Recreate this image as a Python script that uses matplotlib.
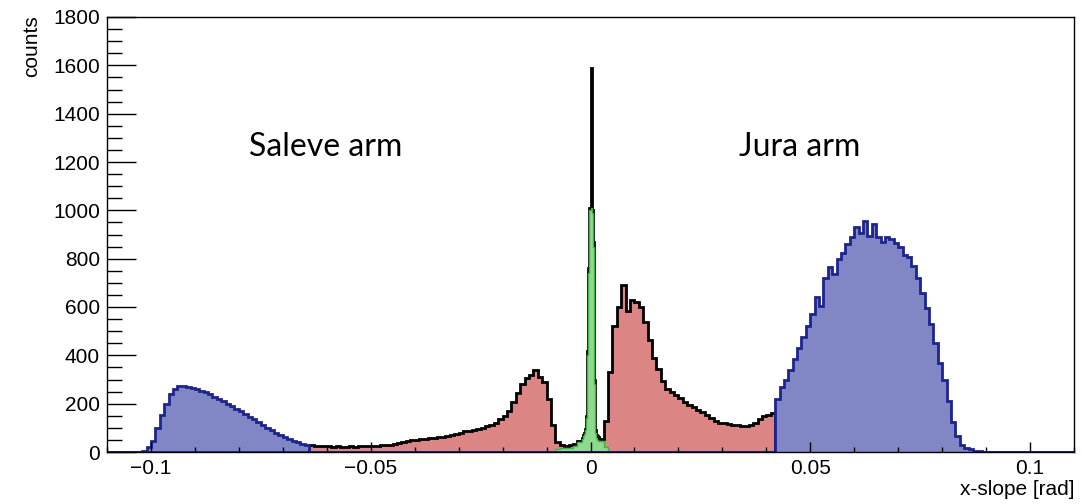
import numpy as np
import matplotlib
matplotlib.use("Agg")
import matplotlib.pyplot as plt
from matplotlib.ticker import MultipleLocator, FuncFormatter

# ---------------- data (counts) ----------------
# coarse bins of 0.001 rad from -0.110 to -0.002
left_counts = (
    [0] * 8 +
    # Saleve arm  (-0.102 .. -0.064)
    [5, 20, 45, 100, 155, 200, 240, 260, 275, 274,
     270, 264, 260, 254, 248, 238, 228, 219, 210, 200,
     192, 178, 170, 158, 146, 135, 124, 112, 100, 89,
     78, 70, 63, 55, 47, 40, 33, 28] +
    # central part (-0.064 .. -0.002)
    [27, 26, 24, 25, 23, 22, 24, 21, 22, 23,
     22, 24, 25, 24, 26, 25, 27, 29, 31, 33,
     36, 40, 44, 48, 50, 53, 55, 57, 60, 62,
     64, 67, 72, 76, 80, 85, 88, 92, 96, 100,
     106, 112, 122, 135, 150, 168, 205, 245, 280, 305,
     320, 338, 310, 290, 220, 110, 40, 27, 26, 28,
     33, 45]
)
# fine bins of 0.00025 rad from -0.002 to 0.002
center_counts = [60, 70, 80, 95, 150, 420, 760, 1010,
                 1590, 1000, 870, 300, 90, 70, 65, 62]
# coarse bins of 0.001 rad from 0.002 to 0.110
right_counts = (
    # central part (0.002 .. 0.042)
    [55, 130, 330, 520, 600, 690, 585, 630, 622, 600,
     540, 465, 390, 345, 295, 262, 248, 235, 222, 205,
     196, 188, 175, 165, 153, 140, 130, 122, 120, 117,
     112, 113, 108, 106, 110, 122, 136, 148, 153, 162] +
    # Jura arm (0.042 .. 0.089)
    [220, 270, 300, 340, 385, 430, 475, 520, 570, 640,
     605, 720, 765, 735, 800, 825, 860, 890, 930, 905,
     955, 895, 945, 890, 870, 890, 880, 865, 850, 815,
     805, 770, 720, 660, 595, 530, 450, 370, 300, 210,
     125, 65, 30, 18, 12, 6, 3] +
    [0] * 21
)
# zero-slope (green) component: -0.008..-0.002, fine centre, 0.002..0.004
green_left = [12, 15, 15, 18, 25, 40]
green_center = [55, 65, 75, 90, 140, 400, 740, 1000,
                1008, 990, 850, 280, 80, 60, 50, 45]
green_right = [45, 20]

saleve_limit = -0.064
jura_limit = 0.042

# ---------------- build histogram arrays ----------------
edges = np.concatenate([
    np.arange(-110, -2) * 0.001,
    np.arange(-8, 8) * 0.00025,
    np.arange(2, 111) * 0.001,
])
total = np.array(left_counts + center_counts + right_counts, dtype=float)
green = np.concatenate([np.zeros(102), green_left, green_center,
                        green_right, np.zeros(106)])
mid = 0.5 * (edges[:-1] + edges[1:])
saleve_mask = mid < saleve_limit
jura_mask = mid > jura_limit
central_mask = ~(saleve_mask | jura_mask)

central = np.where(central_mask, total, 0)
saleve = np.where(saleve_mask, total, 0)
jura = np.where(jura_mask, total, 0)

# ---------------- plot ----------------
fig = plt.figure(figsize=(10.82, 5.04), dpi=100)
ax = fig.add_axes([107 / 1082, 1 - 452 / 504, 967 / 1082, 435 / 504])

red_fill = "#dc8585"
blue_fill = "#8087c4"
navy = "#1c2490"
green_fill = "#8fd98f"
green_edge = "#3cb53c"

ax.stairs(central, edges, fill=True, color=red_fill, lw=0)
ax.stairs(central, edges, color="black", lw=2.0)
ax.stairs(green, edges, fill=True, color=green_fill, lw=0)
ax.stairs(green, edges, color=green_edge, lw=1.0)
for arm in (saleve, jura):
    ax.stairs(arm, edges, fill=True, color=blue_fill, lw=0)
    ax.stairs(arm, edges, color=navy, lw=2.0)

ax.set_xlim(-0.11, 0.11)
ax.set_ylim(0, 1800)

ax.xaxis.set_major_locator(MultipleLocator(0.05))
ax.xaxis.set_minor_locator(MultipleLocator(0.01))
ax.yaxis.set_major_locator(MultipleLocator(200))
ax.yaxis.set_minor_locator(MultipleLocator(50))


def xfmt(v, pos):
    v = round(v, 4)
    if abs(v) < 1e-9:
        return "0"
    s = f"{v:g}"
    return s.replace("-", "\u2212")


ax.xaxis.set_major_formatter(FuncFormatter(xfmt))

tick_font = "Liberation Sans"
ax.tick_params(axis="x", which="major", direction="in", length=7.5,
               width=1.0, labelsize=15, pad=5)
ax.tick_params(axis="x", which="minor", direction="in", length=3.8,
               width=1.0)
ax.tick_params(axis="y", which="major", direction="in", length=21,
               width=1.0, labelsize=15, pad=5)
ax.tick_params(axis="y", which="minor", direction="in", length=11,
               width=1.0)
ax.tick_params(top=False, right=False, which="both")
for lab in ax.get_xticklabels() + ax.get_yticklabels():
    lab.set_fontfamily(tick_font)

for sp in ax.spines.values():
    sp.set_linewidth(1.0)

ax.set_ylabel("counts", fontsize=15, fontfamily=tick_font, loc="top")
ax.yaxis.set_label_coords(-0.068, 1.005)
ax.set_xlabel("x-slope [rad]", fontsize=15, fontfamily=tick_font, loc="right")
ax.xaxis.set_label_coords(1.0, -0.065)

ax.text(-0.0602, 1262, "Saleve arm", fontsize=23, fontfamily="Lato",
        ha="center", va="center")
ax.text(0.0475, 1262, "Jura arm", fontsize=23, fontfamily="Lato",
        ha="center", va="center")

fig.savefig("out.png", dpi=100)
